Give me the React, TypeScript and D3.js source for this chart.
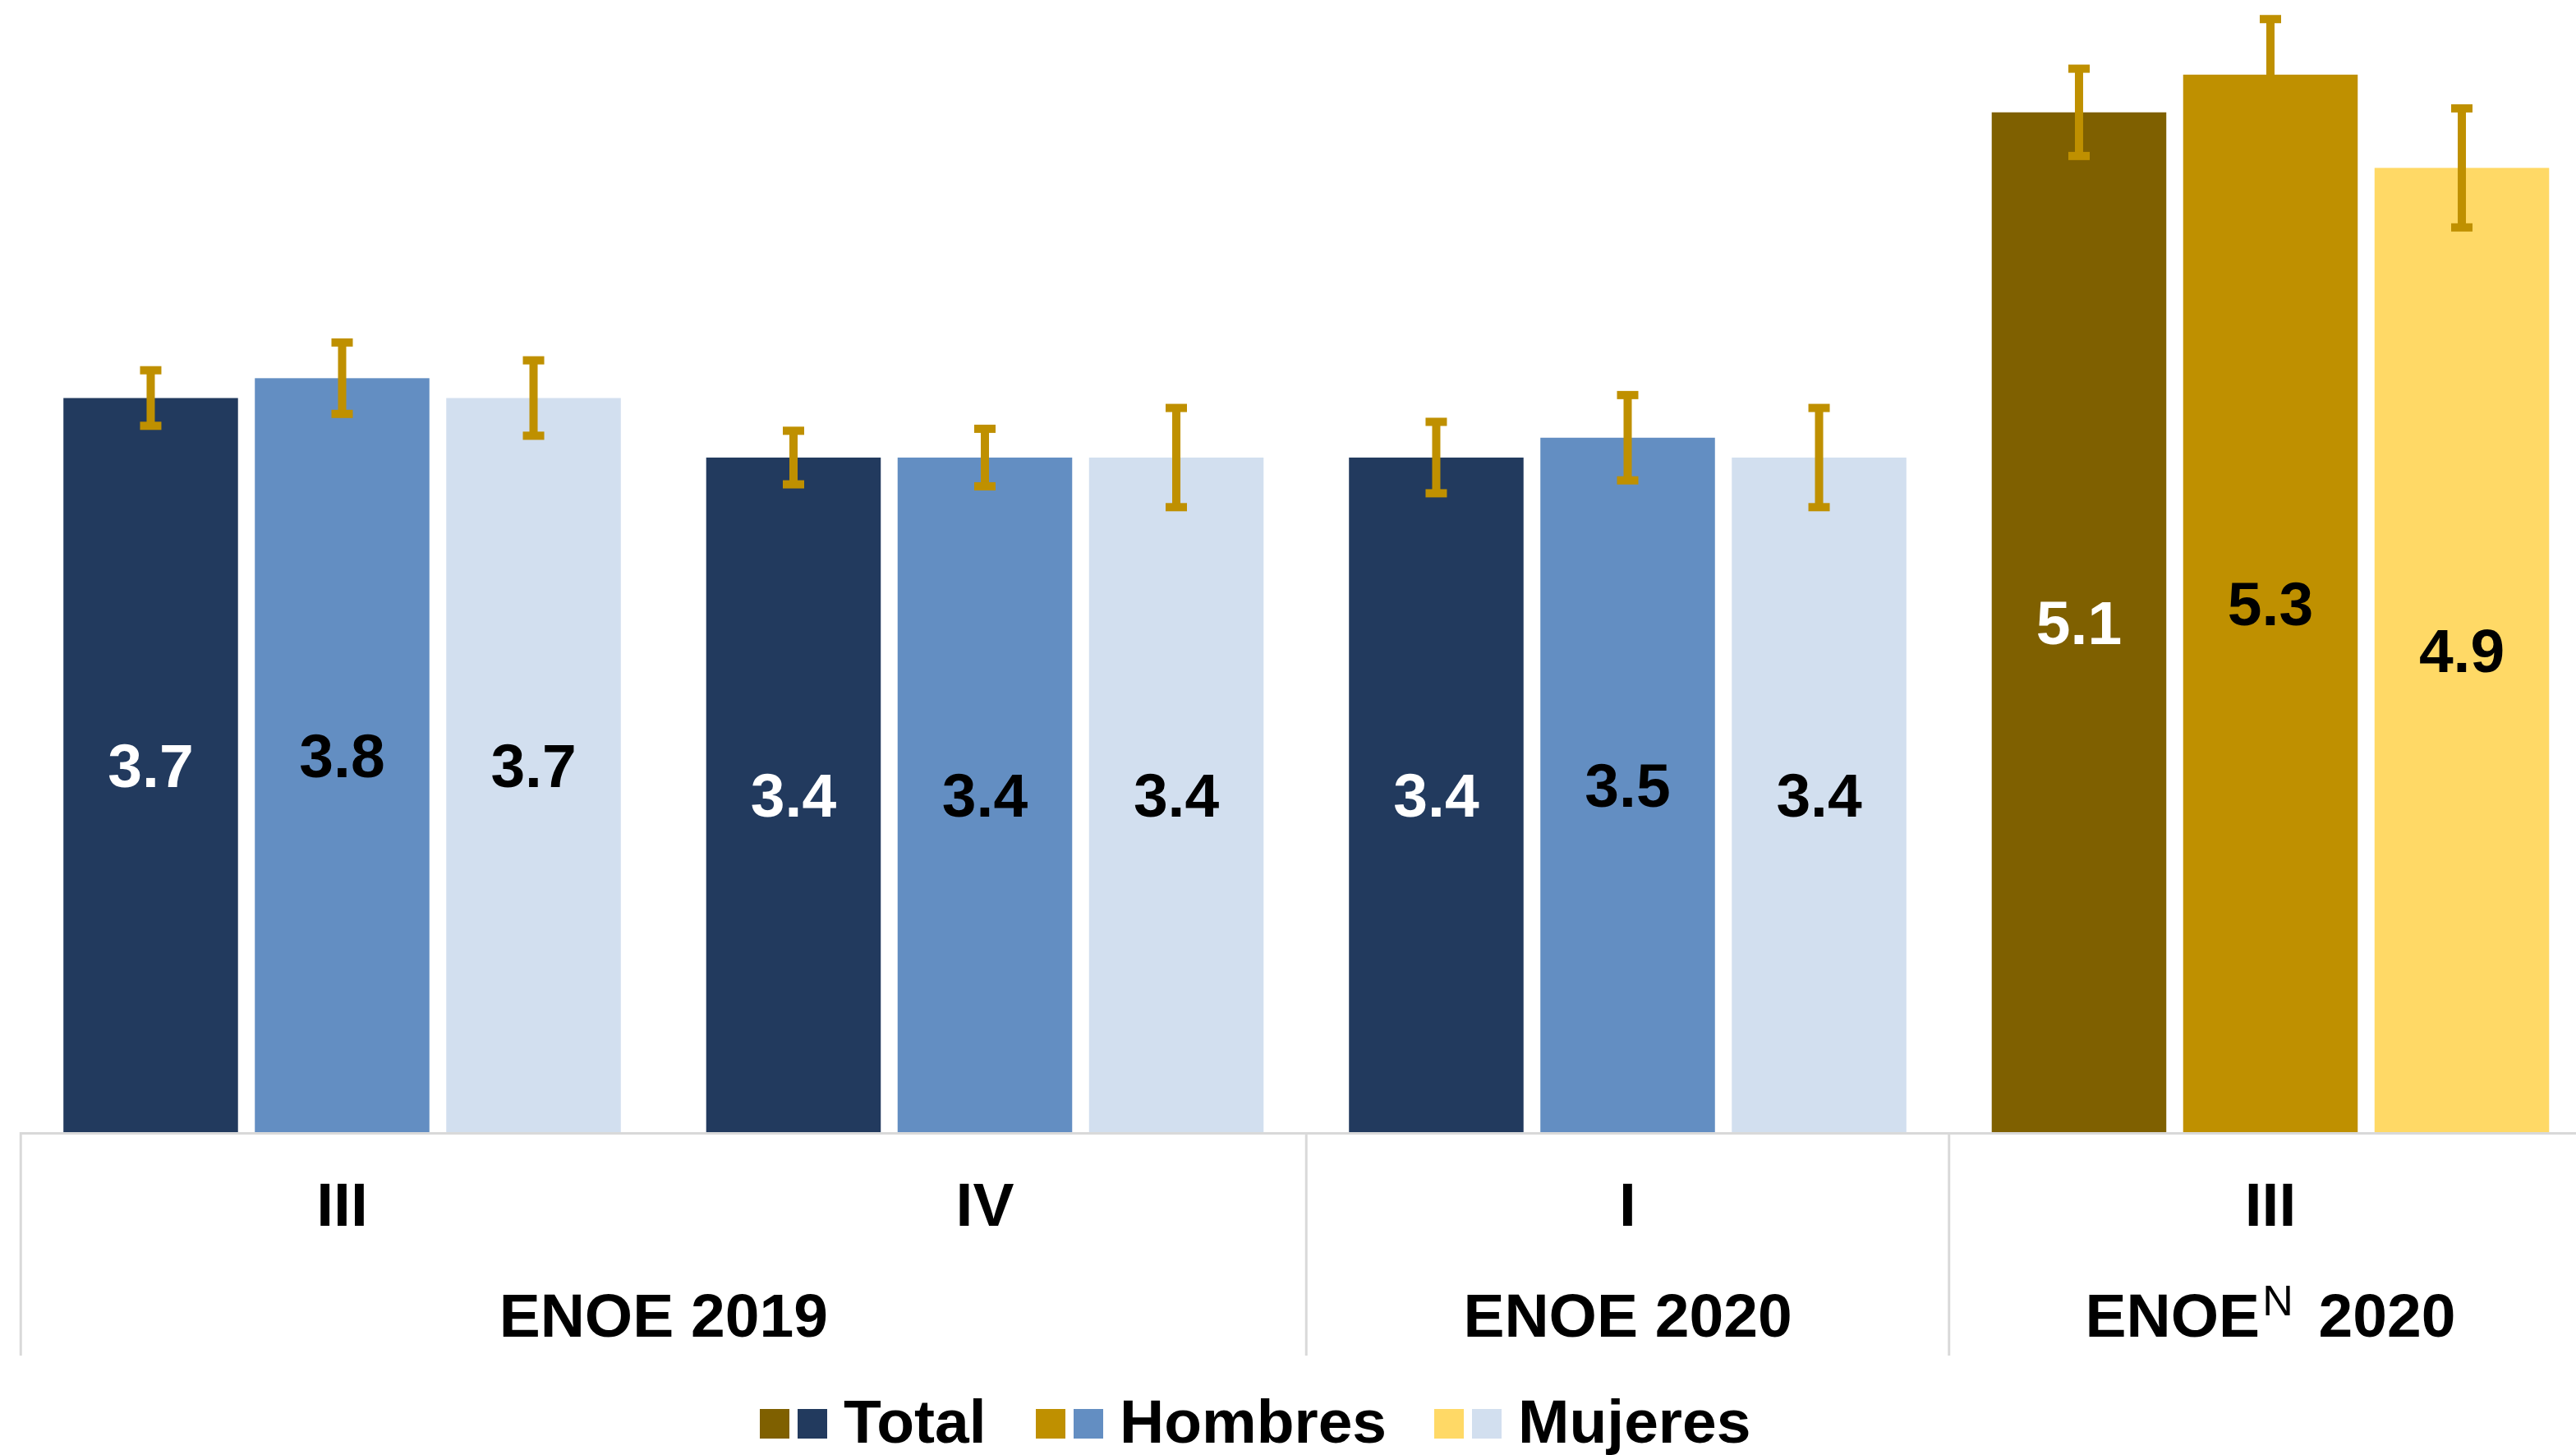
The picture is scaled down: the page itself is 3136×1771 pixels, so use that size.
import React from "react";
import * as d3 from "d3";

const quarters = ["III", "IV", "I", "III"];
const surveys = ["ENOE 2019", "ENOE 2020", "ENOE 2020"];
const surveySpans = [[0, 1], [2, 2], [3, 3]];
const surveySuperscript = ["", "", "N"];
const seriesNames = ["Total", "Hombres", "Mujeres"];
const totalValues = [3.7, 3.4, 3.4, 5.14];
const hombresValues = [3.8, 3.4, 3.5, 5.33];
const mujeresValues = [3.7, 3.4, 3.4, 4.86];
const totalErrors = [0.14, 0.135, 0.18, 0.22];
const hombresErrors = [0.18, 0.145, 0.215, 0.28];
const mujeresErrors = [0.19, 0.25, 0.25, 0.3];
const blueColors = ["#223A5E", "#638EC2", "#D2DFEF"];
const goldColors = ["#7F6000", "#BF9000", "#FFD966"];
const labelColors = ["#FFFFFF", "#000000", "#000000"];
const errorColor = "#BF9000";
const newSurveyIndex = 3;

const W = 3136;
const H = 1771;
const FONT = "'Liberation Sans', Arial, Helvetica, sans-serif";

export default function App() {
  const values = [totalValues, hombresValues, mujeresValues];
  const errors = [totalErrors, hombresErrors, mujeresErrors];
  const baseY = 1378;
  const y = d3.scaleLinear().domain([0, 5.7]).range([baseY, 1.5]);
  const x0 = d3
    .scaleBand<number>()
    .domain(d3.range(quarters.length))
    .range([25.25, 25.25 + 782.5 * 4])
    .paddingInner(0)
    .paddingOuter(0);
  const x1 = d3
    .scaleBand<number>()
    .domain(d3.range(seriesNames.length))
    .range([0, x0.bandwidth()])
    .paddingInner(0.088)
    .paddingOuter(0.223);

  const bars: any[] = [];
  const labels: any[] = [];
  const errs: any[] = [];
  quarters.forEach((q, gi) => {
    seriesNames.forEach((s, si) => {
      const v = values[si][gi];
      const e = errors[si][gi];
      const bx = (x0(gi) as number) + (x1(si) as number);
      const bw = x1.bandwidth();
      const color = gi >= newSurveyIndex ? goldColors[si] : blueColors[si];
      bars.push(
        <rect key={`b${gi}-${si}`} x={bx} y={y(v)} width={bw} height={baseY - y(v)} fill={color} />
      );
      labels.push(
        <text
          key={`l${gi}-${si}`}
          x={bx + bw / 2}
          y={y(v / 2)}
          dy="0.36em"
          textAnchor="middle"
          fontSize={75}
          fontWeight="bold"
          fontFamily={FONT}
          fill={labelColors[si]}
        >
          {v.toFixed(1)}
        </text>
      );
      const cx = bx + bw / 2;
      errs.push(
        <g key={`e${gi}-${si}`} stroke={errorColor} strokeWidth={10}>
          <line x1={cx} x2={cx} y1={y(v + e)} y2={y(v - e)} />
          <line x1={cx - 13} x2={cx + 13} y1={y(v + e)} y2={y(v + e)} />
          <line x1={cx - 13} x2={cx + 13} y1={y(v - e)} y2={y(v - e)} />
        </g>
      );
    });
  });

  const sepBottom = 1650;
  const boundaries = surveySpans.map((sp) => x0(sp[0]) as number);

  const legendStarts = [925, 1261, 1746];

  return (
    <svg
      width={W}
      height={H}
      style={{ position: "absolute", left: 0, top: 0, display: "block", background: "#fff" }}
    >
      <rect x={0} y={0} width={W} height={H} fill="#FFFFFF" />
      {bars}
      {labels}
      {errs}
      <line x1={24} x2={W} y1={baseY + 1.5} y2={baseY + 1.5} stroke="#D9D9D9" strokeWidth={3} />
      {boundaries.map((bx, i) => (
        <line key={`s${i}`} x1={bx} x2={bx} y1={baseY} y2={sepBottom} stroke="#D9D9D9" strokeWidth={3} />
      ))}
      {quarters.map((q, gi) => (
        <text
          key={`q${gi}`}
          x={(x0(gi) as number) + x0.bandwidth() / 2}
          y={1492}
          textAnchor="middle"
          fontSize={75}
          fontWeight="bold"
          fontFamily={FONT}
          fill="#000"
        >
          {q}
        </text>
      ))}
      {surveys.map((s, i) => {
        const sp = surveySpans[i];
        const cx = ((x0(sp[0]) as number) + (x0(sp[1]) as number) + x0.bandwidth()) / 2;
        const sup = surveySuperscript[i];
        if (!sup) {
          return (
            <text
              key={`sv${i}`}
              x={cx}
              y={1627}
              textAnchor="middle"
              fontSize={75}
              fontWeight="bold"
              fontFamily={FONT}
              fill="#000"
            >
              {s}
            </text>
          );
        }
        const parts = s.split(" ");
        return (
          <text
            key={`sv${i}`}
            x={cx}
            y={1627}
            textAnchor="middle"
            fontSize={75}
            fontWeight="bold"
            fontFamily={FONT}
            fill="#000"
          >
            {parts[0]}
            <tspan fontSize={52} fontWeight="normal" dy={-26} dx={3}>
              {sup}
            </tspan>
            <tspan dy={26} dx={10}>{"\u00A0" + parts.slice(1).join(" ")}</tspan>
          </text>
        );
      })}
      {seriesNames.map((s, si) => {
        const lx = legendStarts[si];
        return (
          <g key={`lg${si}`}>
            <rect x={lx} y={1715} width={36} height={36} fill={goldColors[si]} />
            <rect x={lx + 46} y={1715} width={36} height={36} fill={blueColors[si]} />
            <text
              x={lx + 102}
              y={1756}
              fontSize={75}
              fontWeight="bold"
              fontFamily={FONT}
              fill="#000"
            >
              {s}
            </text>
          </g>
        );
      })}
    </svg>
  );
}
